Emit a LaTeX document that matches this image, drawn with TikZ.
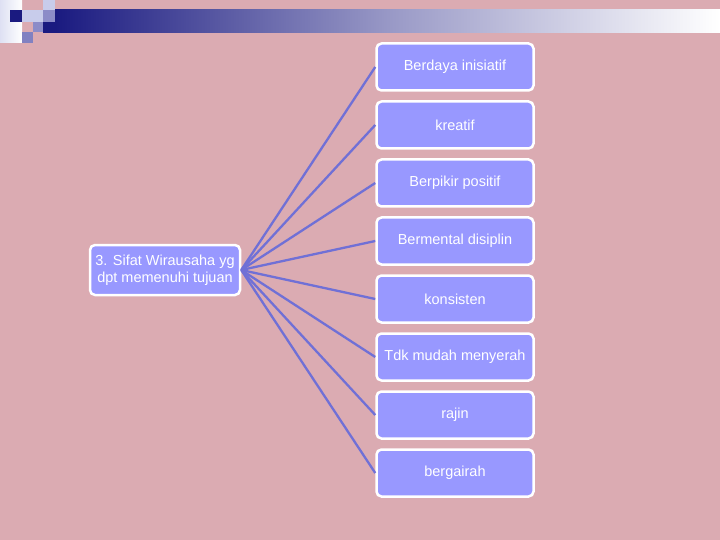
\documentclass[tikz,border=0pt]{standalone}
\usepackage{fontspec}
\setmainfont{Liberation Sans}
\definecolor{bgpink}{RGB}{219,171,178}
\definecolor{boxfill}{RGB}{152,152,255}
\definecolor{linkcol}{RGB}{112,112,214}
\definecolor{navy}{RGB}{26,26,128}
\definecolor{midblue}{RGB}{140,140,200}
\definecolor{paleblue}{RGB}{200,204,235}
\begin{document}
\begin{tikzpicture}[x=1pt,y=-1pt,
  itembox/.style={draw=white, line width=2.5pt, fill=boxfill, rounded corners=5pt,
    minimum width=157pt, minimum height=47pt, inner sep=1pt, text=white,
    font=\fontsize{14.5}{17}\selectfont, align=center},
  rootbox/.style={itembox, minimum width=150pt, minimum height=50pt},
  link/.style={draw=linkcol, line width=2.3pt}]
\useasboundingbox (0,0) rectangle (720,540);
\fill[bgpink] (0,0) rectangle (720,540);
% header decoration
\shade[left color=paleblue!60!white, right color=white] (0,0) rectangle (22,43);
\fill[navy] (10,10) rectangle (22,22);
\fill[paleblue] (22,10) rectangle (43,22);
\fill[paleblue] (43,0) rectangle (55,10);
\fill[midblue] (43,10) rectangle (55,22);
\fill[midblue] (33,22) rectangle (43,32);
\fill[midblue!90!navy] (22,32) rectangle (33,43);
\shade[left color=navy, right color=white, middle color=navy!45!white] (55,10) rectangle (720,33);
\fill[navy] (43,22) rectangle (55,33);
% nodes
\node[rootbox] (root) at (165,270) {3. Sifat Wirausaha yg\\dpt memenuhi tujuan};
\node[itembox] (b1) at (455,67) {Berdaya inisiatif};
\node[itembox] (b2) at (455,125) {kreatif};
\node[itembox] (b3) at (455,183) {Berpikir positif};
\node[itembox] (b4) at (455,241) {Bermental disiplin};
\node[itembox] (b5) at (455,299) {konsisten};
\node[itembox] (b6) at (455,357) {Tdk mudah menyerah};
\node[itembox] (b7) at (455,415) {rajin};
\node[itembox] (b8) at (455,473) {bergairah};
\foreach \b in {b1,b2,b3,b4,b5,b6,b7,b8}{
  \draw[link] (root.east) -- (\b.west);
}
\end{tikzpicture}
\end{document}
